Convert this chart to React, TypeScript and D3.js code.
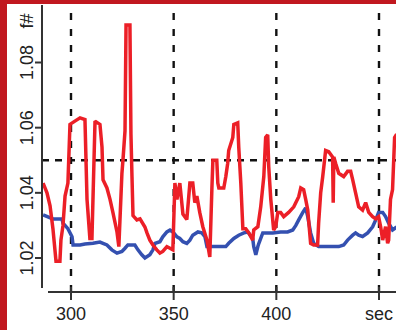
import React, { useEffect, useRef } from "react";
import * as d3 from "d3";

// sample times (sec) and values
const redTime = [286.4, 288.3, 289.8, 291.2, 292.7, 294.6, 295.1, 296.1, 297.1, 298.5, 299.5, 301.9, 304.4, 306.8, 307.8, 309.2, 310.2, 311.7, 314.1, 315.1, 315.6, 317.5, 319.0, 320.4, 322.4, 323.3, 324.8, 325.3, 326.3, 326.8, 328.7, 329.2, 329.7, 330.2, 332.1, 333.6, 336.0, 337.0, 338.4, 339.9, 341.8, 343.3, 344.7, 346.7, 348.2, 349.6, 350.6, 351.6, 353.0, 354.5, 356.4, 357.9, 359.3, 360.3, 361.3, 362.7, 364.2, 366.2, 367.6, 368.6, 369.1, 371.0, 371.5, 372.0, 374.4, 375.4, 376.3, 376.8, 378.8, 379.3, 381.2, 381.7, 382.7, 383.7, 385.1, 386.6, 388.5, 389.0, 391.0, 392.4, 393.9, 394.8, 395.8, 396.3, 397.3, 398.7, 399.7, 400.7, 402.1, 403.6, 406.0, 408.5, 410.9, 411.9, 413.3, 414.3, 415.3, 416.7, 418.2, 420.1, 420.6, 421.6, 422.6, 424.0, 425.5, 427.4, 427.7, 428.0, 428.9, 430.4, 432.8, 434.7, 436.2, 437.2, 438.6, 440.1, 442.0, 443.5, 445.0, 446.9, 448.4, 449.8, 450.8, 451.8, 453.2, 454.2, 454.7, 455.6, 456.6, 457.6, 458.6];
const redValue = [1.043, 1.040, 1.036, 1.029, 1.019, 1.019, 1.0255, 1.030, 1.039, 1.043, 1.061, 1.062, 1.063, 1.0625, 1.038, 1.026, 1.026, 1.062, 1.061, 1.054, 1.044, 1.0415, 1.038, 1.034, 1.028, 1.0235, 1.046, 1.050, 1.059, 1.0915, 1.0915, 1.058, 1.045, 1.033, 1.0317, 1.032, 1.0295, 1.0277, 1.0255, 1.024, 1.0225, 1.0215, 1.022, 1.0235, 1.023, 1.0225, 1.043, 1.038, 1.043, 1.0335, 1.0318, 1.043, 1.043, 1.037, 1.039, 1.034, 1.0296, 1.0255, 1.0203, 1.041, 1.050, 1.050, 1.043, 1.0415, 1.0415, 1.045, 1.049, 1.053, 1.057, 1.061, 1.0615, 1.054, 1.043, 1.029, 1.029, 1.0277, 1.0255, 1.0286, 1.0296, 1.0357, 1.045, 1.057, 1.0578, 1.048, 1.038, 1.0286, 1.0296, 1.034, 1.034, 1.0327, 1.034, 1.0357, 1.0388, 1.0415, 1.041, 1.038, 1.0347, 1.0245, 1.024, 1.024, 1.0307, 1.040, 1.045, 1.053, 1.0526, 1.051, 1.037, 1.051, 1.049, 1.046, 1.045, 1.0466, 1.0466, 1.044, 1.040, 1.0357, 1.0347, 1.037, 1.034, 1.0327, 1.032, 1.0327, 1.0296, 1.0255, 1.0296, 1.0245, 1.0255, 1.038, 1.041, 1.057, 1.058];

const blueTime = [286.4, 291.2, 295.6, 296.1, 298.5, 300.5, 301.0, 304.4, 306.8, 310.7, 314.1, 315.6, 317.5, 319.9, 322.4, 324.8, 326.3, 327.7, 331.1, 332.6, 334.5, 336.0, 338.4, 339.9, 340.9, 343.3, 344.7, 346.7, 348.2, 349.6, 351.6, 353.0, 354.5, 356.4, 357.9, 359.3, 361.8, 363.7, 365.2, 366.2, 370.5, 375.4, 376.8, 379.3, 381.7, 384.2, 386.1, 388.5, 389.0, 390.0, 391.0, 391.5, 393.4, 398.3, 402.1, 405.5, 408.0, 409.5, 410.9, 412.9, 414.3, 415.3, 416.7, 418.2, 420.6, 430.4, 432.8, 434.7, 437.2, 438.6, 440.1, 442.0, 444.5, 446.9, 448.4, 449.8, 451.8, 453.2, 454.7, 456.6, 458.6];
const blueValue = [1.0332, 1.032, 1.032, 1.0307, 1.029, 1.0265, 1.024, 1.024, 1.0243, 1.0245, 1.0249, 1.0245, 1.024, 1.0225, 1.0215, 1.022, 1.023, 1.024, 1.024, 1.0225, 1.021, 1.020, 1.021, 1.0225, 1.0245, 1.025, 1.0265, 1.028, 1.0286, 1.028, 1.0265, 1.026, 1.025, 1.0245, 1.0255, 1.027, 1.028, 1.0277, 1.0266, 1.0235, 1.0235, 1.0235, 1.0245, 1.026, 1.027, 1.0277, 1.028, 1.026, 1.0235, 1.021, 1.0235, 1.0245, 1.0277, 1.0277, 1.028, 1.028, 1.0286, 1.030, 1.0317, 1.034, 1.0354, 1.0327, 1.0277, 1.0245, 1.0235, 1.0235, 1.024, 1.0255, 1.027, 1.0277, 1.027, 1.0266, 1.0277, 1.0296, 1.0317, 1.034, 1.034, 1.0327, 1.0307, 1.0286, 1.0295];

const xTicks = [300, 350, 400, 450];
const xTickLabels = ["300", "350", "400", "sec"];
const yTicks = [1.02, 1.04, 1.06, 1.08];
const yTickLabels = ["1.02", "1.04", "1.06", "1.08"];
const yRefLine = 1.05;
const yAxisLabel = "f#";

const App = () => {
    const ref = useRef<SVGSVGElement>(null);
    const width = 396;
    const height = 330;

    useEffect(() => {
        const svg = d3.select(ref.current);
        svg.selectAll("*").remove();

        const x = d3.scaleLinear().domain([300, 450]).range([71, 379]);
        const y = d3.scaleLinear().domain([1.02, 1.08]).range([258, 62.5]);

        const plotLeft = 42;
        const plotTop = 5;
        const plotBottom = 290;
        const font = "'Liberation Sans', Arial, sans-serif";

        svg.append("rect").attr("width", width).attr("height", height).attr("fill", "#fff");

        // red frame on the left and top
        svg.append("rect").attr("x", 0).attr("y", 0).attr("width", width).attr("height", 4).attr("fill", "#c1181f");
        svg.append("rect").attr("x", 0).attr("y", 0).attr("width", 7).attr("height", height).attr("fill", "#c1181f");

        svg.append("clipPath").attr("id", "plot")
            .append("rect")
            .attr("x", plotLeft).attr("y", plotTop)
            .attr("width", width - plotLeft).attr("height", plotBottom - plotTop);

        // dashed grid
        svg.append("g")
            .selectAll("line")
            .data(xTicks)
            .join("line")
            .attr("x1", d => x(d)).attr("x2", d => x(d))
            .attr("y1", 13).attr("y2", 292)
            .attr("stroke", "#111")
            .attr("stroke-width", 2.4)
            .attr("stroke-dasharray", "7,9");

        svg.append("line")
            .attr("x1", plotLeft).attr("x2", width)
            .attr("y1", y(yRefLine)).attr("y2", y(yRefLine))
            .attr("stroke", "#111")
            .attr("stroke-width", 2.4)
            .attr("stroke-dasharray", "7,6");

        const line = d3.line<[number, number]>()
            .x(d => x(d[0]))
            .y(d => y(d[1]));

        const lines = svg.append("g").attr("clip-path", "url(#plot)");

        lines.append("path")
            .attr("d", line(blueTime.map((t, i) => [t, blueValue[i]])))
            .attr("fill", "none")
            .attr("stroke", "#3450b0")
            .attr("stroke-width", 3.5)
            .attr("stroke-linejoin", "miter")
            .attr("stroke-miterlimit", 2);

        lines.append("path")
            .attr("d", line(redTime.map((t, i) => [t, redValue[i]])))
            .attr("fill", "none")
            .attr("stroke", "#ec1f27")
            .attr("stroke-width", 3.5)
            .attr("stroke-linejoin", "miter")
            .attr("stroke-miterlimit", 2);

        // axes
        const yAxis = svg.append("g");
        yAxis.append("line")
            .attr("x1", plotLeft).attr("x2", plotLeft)
            .attr("y1", plotTop).attr("y2", 288)
            .attr("stroke", "#333").attr("stroke-width", 2);
        const yTick = yAxis.selectAll("g")
            .data(yTicks)
            .join("g")
            .attr("transform", d => `translate(0,${y(d)})`);
        yTick.append("line")
            .attr("x1", 35).attr("x2", plotLeft)
            .attr("stroke", "#333").attr("stroke-width", 2);
        yTick.append("text")
            .attr("transform", "translate(33,0) rotate(-90)")
            .attr("text-anchor", "middle")
            .attr("font-family", font)
            .attr("font-size", 18)
            .attr("fill", "#222")
            .text((d, i) => yTickLabels[i]);
        yAxis.append("text")
            .attr("transform", "translate(33,21) rotate(-90)")
            .attr("text-anchor", "middle")
            .attr("font-family", font)
            .attr("font-size", 18)
            .attr("fill", "#222")
            .text(yAxisLabel);

        const xAxis = svg.append("g");
        xAxis.append("line")
            .attr("x1", 48).attr("x2", width)
            .attr("y1", 292).attr("y2", 292)
            .attr("stroke", "#333").attr("stroke-width", 2);
        const xTick = xAxis.selectAll("g")
            .data(xTicks)
            .join("g")
            .attr("transform", d => `translate(${x(d)},0)`);
        xTick.append("line")
            .attr("y1", 287).attr("y2", 300)
            .attr("stroke", "#333").attr("stroke-width", 2);
        xTick.append("text")
            .attr("y", 320)
            .attr("text-anchor", "middle")
            .attr("font-family", font)
            .attr("font-size", 18)
            .attr("fill", "#222")
            .text((d, i) => xTickLabels[i]);
    }, []);

    return (
        <svg ref={ref} width={width} height={height}
            style={{ position: "absolute", left: 0, top: 0, display: "block" }} />
    );
};

export default App;
